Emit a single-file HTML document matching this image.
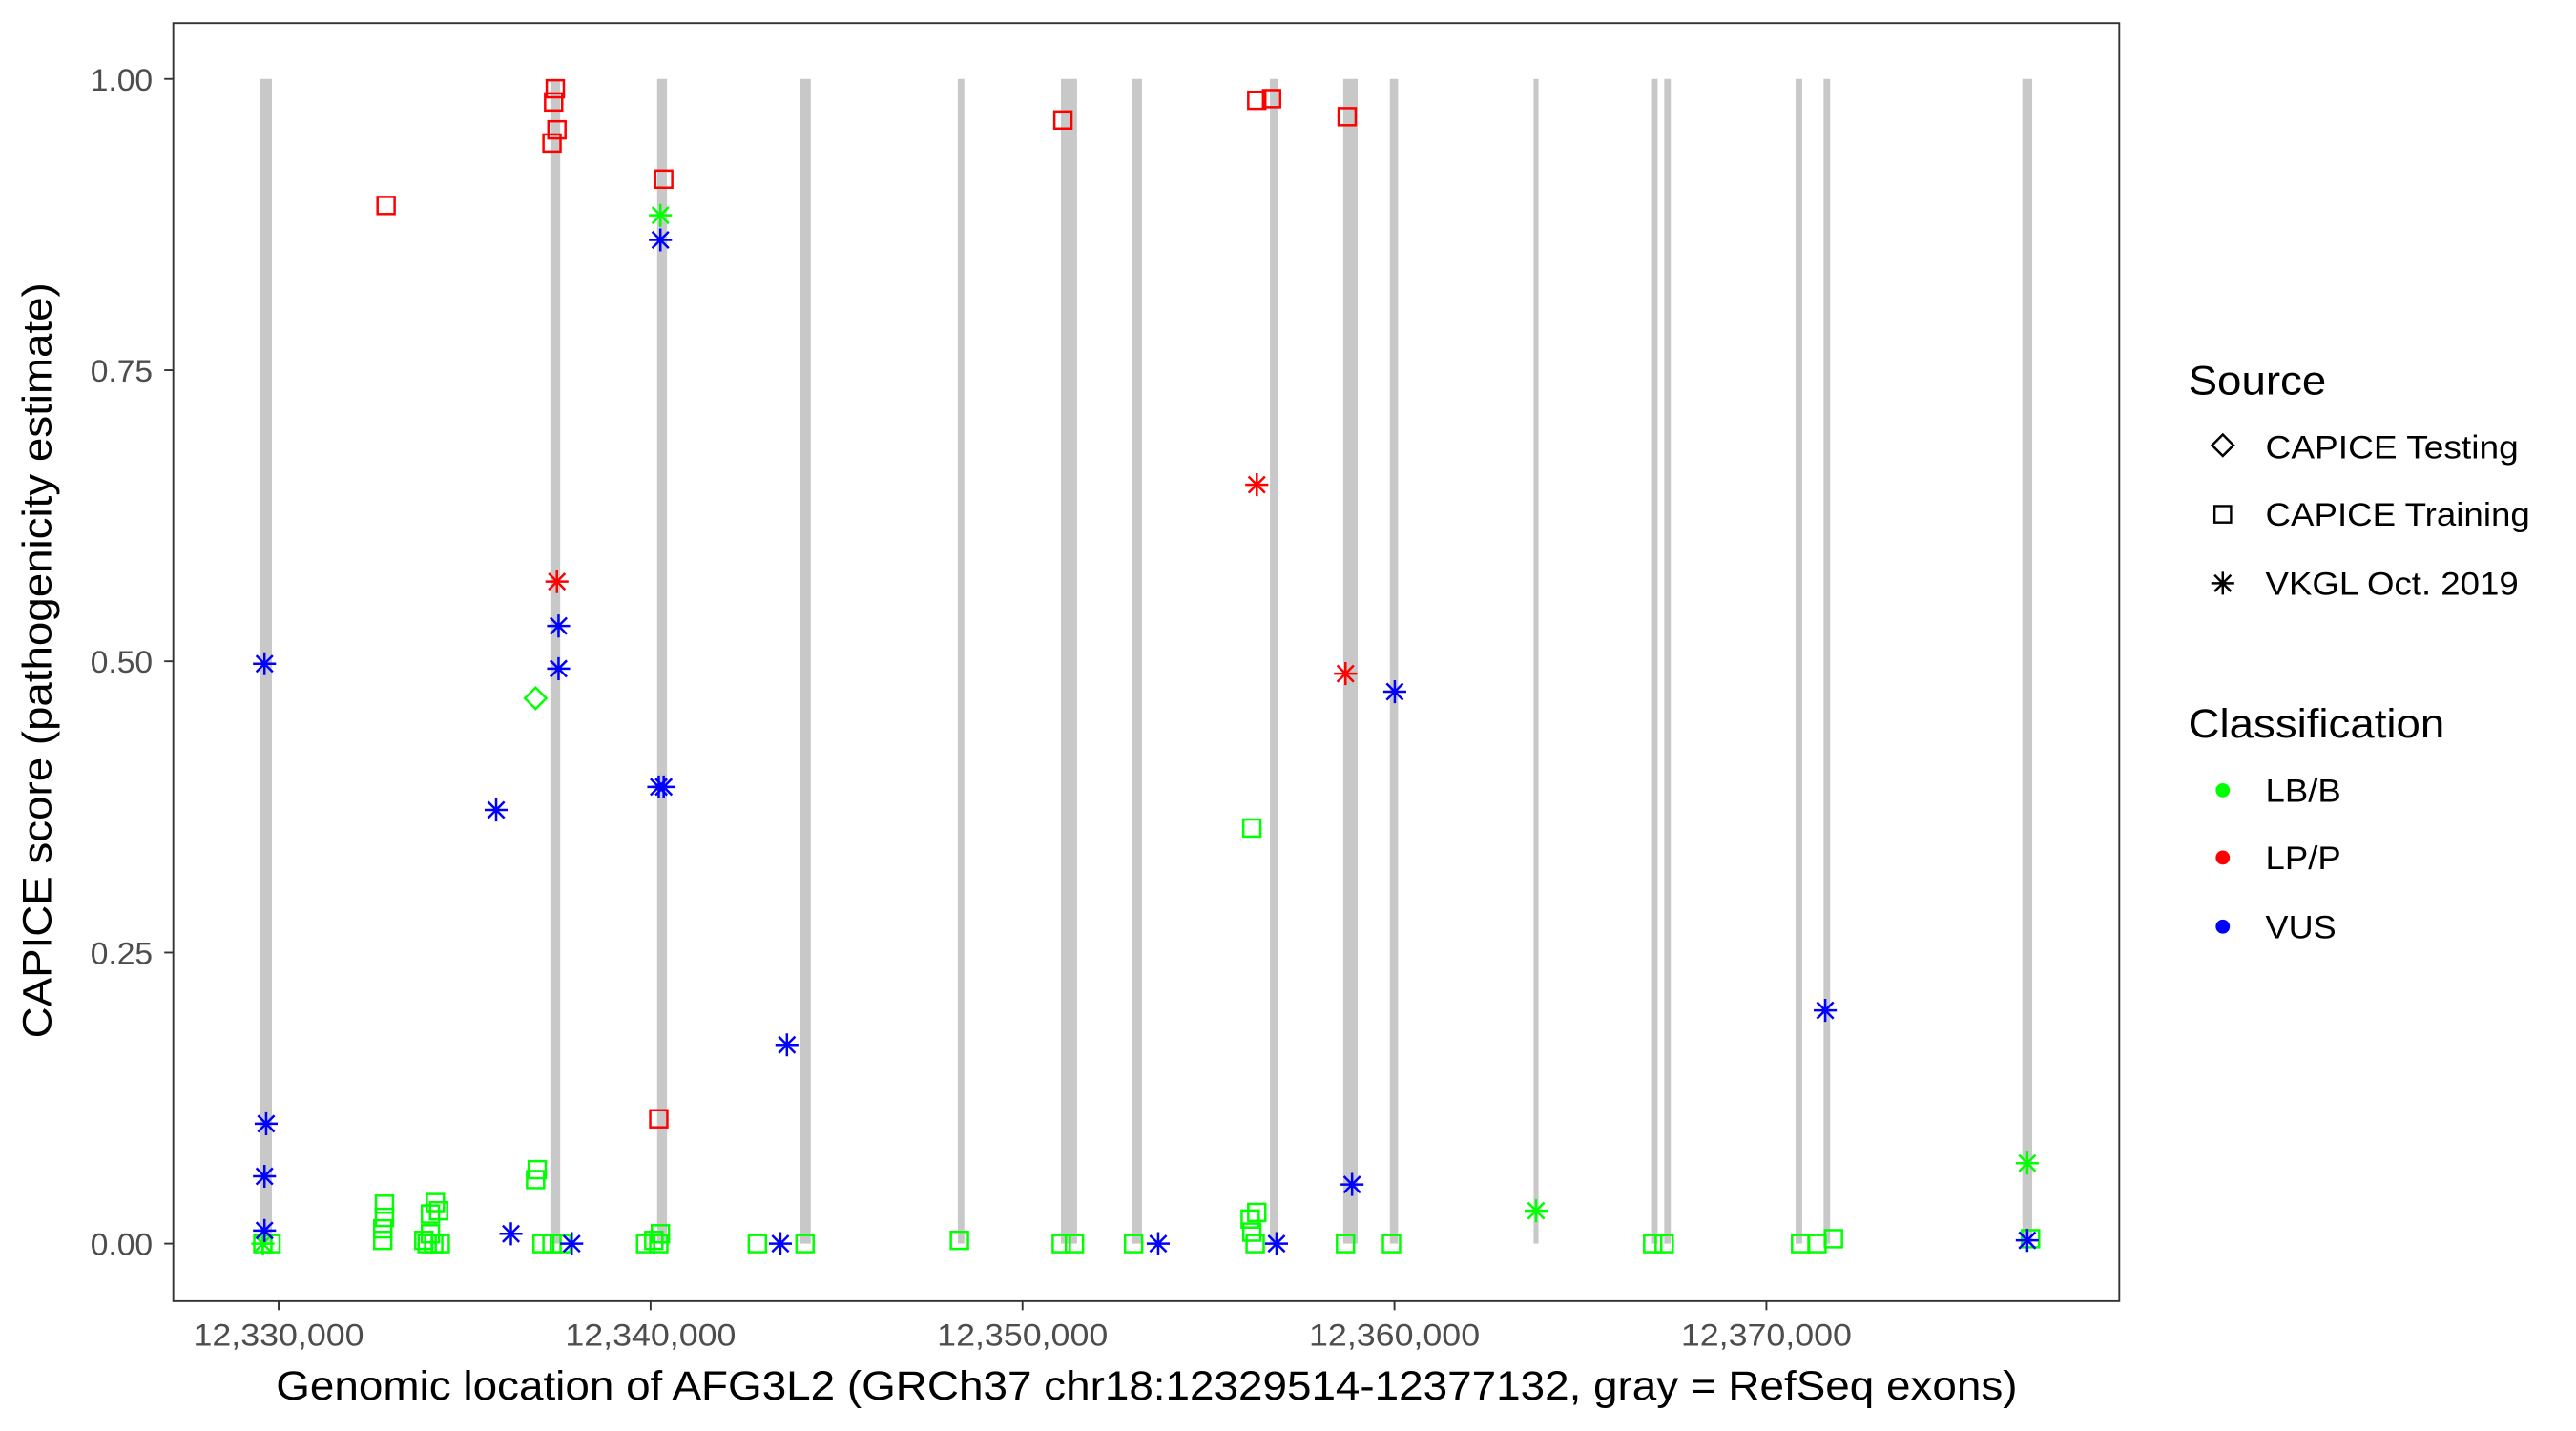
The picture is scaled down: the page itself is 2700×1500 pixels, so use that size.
<!DOCTYPE html>
<html><head><meta charset="utf-8"><style>html,body{margin:0;padding:0;background:#fff;}svg{display:block;}</style></head>
<body>
<svg width="2700" height="1500" viewBox="0 0 1568 871" xmlns="http://www.w3.org/2000/svg" font-family="Liberation Sans, Arial, sans-serif">
<defs>
<rect id="sq" x="-5.2" y="-5.2" width="10.4" height="10.4" fill="none" stroke-width="1.45"/>
<path id="ast" d="M0,-7V7M-7,0H7M-5,-5L5,5M-5,5L5,-5" fill="none" stroke-width="1.45"/>
<path id="dia" d="M0,-6.5L6.5,0L0,6.5L-6.5,0Z" fill="none" stroke-width="1.45"/>
</defs>
<rect x="0" y="0" width="1568" height="871" fill="#fff"/>
<g fill="#c8c8c8">
<rect x="158.5" y="48" width="7" height="709"/>
<rect x="335" y="48" width="6" height="709"/>
<rect x="400" y="48" width="6" height="709"/>
<rect x="487" y="48" width="6.5" height="709"/>
<rect x="583" y="48" width="4" height="709"/>
<rect x="645.8" y="48" width="9.8" height="709"/>
<rect x="689.3" y="48" width="5.8" height="709"/>
<rect x="773" y="48" width="5" height="709"/>
<rect x="817.6" y="48" width="8.8" height="709"/>
<rect x="846" y="48" width="5" height="709"/>
<rect x="933.5" y="48" width="3" height="709"/>
<rect x="1005" y="48" width="4" height="709"/>
<rect x="1013" y="48" width="4" height="709"/>
<rect x="1093" y="48" width="4" height="709"/>
<rect x="1110" y="48" width="4" height="709"/>
<rect x="1231" y="48" width="6" height="709"/>
</g>
<g stroke="#00ff00">
<use href="#sq" x="160" y="757"/><use href="#sq" x="165" y="757"/>
<use href="#sq" x="233" y="755"/><use href="#sq" x="233" y="748"/><use href="#sq" x="234" y="741"/><use href="#sq" x="234" y="733"/>
<use href="#sq" x="262" y="739"/><use href="#sq" x="267" y="737"/><use href="#sq" x="265" y="732"/>
<use href="#sq" x="260" y="757"/><use href="#sq" x="264" y="757"/><use href="#sq" x="268" y="757"/><use href="#sq" x="258" y="755"/><use href="#sq" x="262" y="751"/>
<use href="#sq" x="327" y="712"/><use href="#sq" x="326" y="718"/>
<use href="#sq" x="330" y="757"/><use href="#sq" x="336" y="757"/><use href="#sq" x="342" y="757"/>
<use href="#sq" x="393" y="757"/><use href="#sq" x="398" y="755"/><use href="#sq" x="402" y="751"/><use href="#sq" x="401" y="757"/>
<use href="#sq" x="461" y="757"/><use href="#sq" x="490" y="757"/><use href="#sq" x="584" y="755"/>
<use href="#sq" x="646" y="757"/><use href="#sq" x="654" y="757"/><use href="#sq" x="690" y="757"/>
<use href="#sq" x="761" y="742"/><use href="#sq" x="765" y="738"/><use href="#sq" x="762" y="750"/><use href="#sq" x="764" y="757"/>
<use href="#sq" x="762" y="504"/>
<use href="#sq" x="819" y="757"/><use href="#sq" x="847" y="757"/>
<use href="#sq" x="1006" y="757"/><use href="#sq" x="1013" y="757"/>
<use href="#sq" x="1096" y="757"/><use href="#sq" x="1106" y="757"/><use href="#sq" x="1116" y="754"/><use href="#sq" x="1236" y="754"/>
</g>
<g stroke="#ff0000">
<use href="#sq" x="235" y="125"/><use href="#sq" x="338" y="54"/><use href="#sq" x="337" y="62"/><use href="#sq" x="339" y="79"/><use href="#sq" x="336" y="87"/>
<use href="#sq" x="404" y="109"/><use href="#sq" x="647" y="73"/><use href="#sq" x="765" y="61"/><use href="#sq" x="774" y="60"/><use href="#sq" x="820" y="71"/><use href="#sq" x="401" y="681"/>
</g>
<use href="#dia" x="326" y="425" stroke="#00ff00"/>
<g stroke="#00ff00">
<use href="#ast" x="402" y="131"/><use href="#ast" x="935" y="737"/><use href="#ast" x="1234" y="708"/><use href="#ast" x="160" y="757"/>
</g>
<g stroke="#ff0000">
<use href="#ast" x="339" y="354"/><use href="#ast" x="765" y="295"/><use href="#ast" x="819" y="410"/>
</g>
<g stroke="#0000ff">
<use href="#ast" x="161" y="404"/><use href="#ast" x="162" y="684"/><use href="#ast" x="161" y="716"/><use href="#ast" x="161" y="749"/>
<use href="#ast" x="302" y="493"/><use href="#ast" x="340" y="381"/><use href="#ast" x="340" y="407"/><use href="#ast" x="402" y="146"/>
<use href="#ast" x="401" y="479"/><use href="#ast" x="404" y="479"/><use href="#ast" x="479" y="636"/><use href="#ast" x="311" y="751"/>
<use href="#ast" x="348" y="757"/><use href="#ast" x="475" y="757"/><use href="#ast" x="705" y="757"/><use href="#ast" x="777" y="757"/>
<use href="#ast" x="823" y="721"/><use href="#ast" x="849" y="421"/><use href="#ast" x="1111" y="615"/><use href="#ast" x="1234" y="755"/>
</g>
<rect x="105.5" y="14" width="1184.5" height="778" fill="none" stroke="#333" stroke-width="1.1"/>
<g stroke="#333" stroke-width="1.1">
<line x1="100" x2="105.5" y1="48" y2="48"/><line x1="100" x2="105.5" y1="225.3" y2="225.3"/><line x1="100" x2="105.5" y1="402.5" y2="402.5"/><line x1="100" x2="105.5" y1="579.8" y2="579.8"/><line x1="100" x2="105.5" y1="757" y2="757"/>
<line y1="792" y2="797.5" x1="169.6" x2="169.6"/><line y1="792" y2="797.5" x1="396" x2="396"/><line y1="792" y2="797.5" x1="622.4" x2="622.4"/><line y1="792" y2="797.5" x1="848.8" x2="848.8"/><line y1="792" y2="797.5" x1="1075.2" x2="1075.2"/>
</g>
<g fill="#4d4d4d" font-size="19">
<text x="55" y="55" textLength="38" lengthAdjust="spacingAndGlyphs">1.00</text>
<text x="55" y="232.3" textLength="38" lengthAdjust="spacingAndGlyphs">0.75</text>
<text x="55" y="409.5" textLength="38" lengthAdjust="spacingAndGlyphs">0.50</text>
<text x="55" y="586.8" textLength="38" lengthAdjust="spacingAndGlyphs">0.25</text>
<text x="55" y="764" textLength="38" lengthAdjust="spacingAndGlyphs">0.00</text>
</g>
<g fill="#4d4d4d" font-size="19">
<text x="117.6" y="819" textLength="104" lengthAdjust="spacingAndGlyphs">12,330,000</text>
<text x="344" y="819" textLength="104" lengthAdjust="spacingAndGlyphs">12,340,000</text>
<text x="570.4" y="819" textLength="104" lengthAdjust="spacingAndGlyphs">12,350,000</text>
<text x="796.8" y="819" textLength="104" lengthAdjust="spacingAndGlyphs">12,360,000</text>
<text x="1023.2" y="819" textLength="104" lengthAdjust="spacingAndGlyphs">12,370,000</text>
</g>
<text x="168" y="852" font-size="25" fill="#000" textLength="1060" lengthAdjust="spacingAndGlyphs">Genomic location of AFG3L2 (GRCh37 chr18:12329514-12377132, gray = RefSeq exons)</text>
<text transform="translate(31,632) rotate(-90)" font-size="25" fill="#000" textLength="460" lengthAdjust="spacingAndGlyphs">CAPICE score (pathogenicity estimate)</text>
<text x="1332" y="240" font-size="25" fill="#000" textLength="84" lengthAdjust="spacingAndGlyphs">Source</text>
<use href="#dia" x="1353" y="271" stroke="#000"/>
<rect x="1348" y="308" width="10" height="10" fill="none" stroke="#000" stroke-width="1.4"/>
<use href="#ast" x="1353" y="355" stroke="#000"/>
<g font-size="20" fill="#000">
<text x="1379" y="279" textLength="154" lengthAdjust="spacingAndGlyphs">CAPICE Testing</text>
<text x="1379" y="320" textLength="161" lengthAdjust="spacingAndGlyphs">CAPICE Training</text>
<text x="1379" y="362" textLength="154" lengthAdjust="spacingAndGlyphs">VKGL Oct. 2019</text>
</g>
<text x="1332" y="449" font-size="25" fill="#000" textLength="156" lengthAdjust="spacingAndGlyphs">Classification</text>
<circle cx="1353" cy="481" r="4.3" fill="#00ff00"/><circle cx="1353" cy="522" r="4.3" fill="#ff0000"/><circle cx="1353" cy="564" r="4.3" fill="#0000ff"/>
<g font-size="20" fill="#000">
<text x="1379" y="488" textLength="46" lengthAdjust="spacingAndGlyphs">LB/B</text>
<text x="1379" y="529" textLength="46" lengthAdjust="spacingAndGlyphs">LP/P</text>
<text x="1379" y="571" textLength="43" lengthAdjust="spacingAndGlyphs">VUS</text>
</g>
</svg>
</body></html>
